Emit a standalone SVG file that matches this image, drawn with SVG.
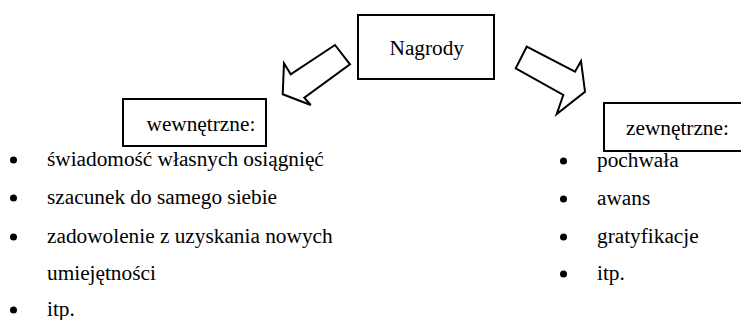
<svg xmlns="http://www.w3.org/2000/svg" width="741" height="320" viewBox="0 0 741 320">
<style>
.box{fill:#fff;stroke:#000;stroke-width:2}
.arr{fill:#fff;stroke:#000;stroke-width:2;stroke-linejoin:miter}
.t{font-family:'Liberation Serif','Times New Roman','DejaVu Serif',serif;font-size:21.3px;fill:#000}
.b{fill:#000}
</style>
<rect width="741" height="320" fill="#fff"/>
<g id="connectors">
<polygon class="arr" points="335,45 350,64.3 304.3,97.7 310.7,105 282.7,94.3 284,63.3 290.7,74.3"/>
<polygon class="arr" points="526.7,46.7 515.7,68.3 563.3,95 556.7,114 585,91.7 581,61 575,71.7"/>
</g>
<g id="nagrody">
<rect class="box" x="358" y="15" width="136" height="64"/>
<text class="t" x="389.5" y="55" font-family="Liberation Serif, serif">Nagrody</text>
</g>
<g id="wewnetrzne">
<rect class="box" x="123" y="99" width="143" height="47"/>
<text class="t" x="146.5" y="131" font-family="Liberation Serif, serif">wewnętrzne:</text>
</g>
<g id="zewnetrzne">
<rect class="box" x="604" y="103" width="145" height="48"/>
<text class="t" x="626" y="135" font-family="Liberation Serif, serif">zewnętrzne:</text>
</g>
<g id="lista-wewnetrzne" font-family="Liberation Serif, serif">
<circle class="b" cx="13.5" cy="160" r="3.5"/>
<text class="t" x="47" y="166">świadomość własnych osiągnięć</text>
<circle class="b" cx="13.5" cy="198" r="3.5"/>
<text class="t" x="47" y="204">szacunek do samego siebie</text>
<circle class="b" cx="13.5" cy="237" r="3.5"/>
<text class="t" x="47" y="243">zadowolenie z uzyskania nowych</text>
<text class="t" x="47" y="280">umiejętności</text>
<circle class="b" cx="13.5" cy="310" r="3.5"/>
<text class="t" x="47" y="316">itp.</text>
</g>
<g id="lista-zewnetrzne" font-family="Liberation Serif, serif">
<circle class="b" cx="563.5" cy="161" r="3.5"/>
<text class="t" x="597" y="167">pochwała</text>
<circle class="b" cx="563.5" cy="199" r="3.5"/>
<text class="t" x="597" y="205">awans</text>
<circle class="b" cx="563.5" cy="237" r="3.5"/>
<text class="t" x="597" y="243">gratyfikacje</text>
<circle class="b" cx="563.5" cy="274" r="3.5"/>
<text class="t" x="597" y="280">itp.</text>
</g>
</svg>
